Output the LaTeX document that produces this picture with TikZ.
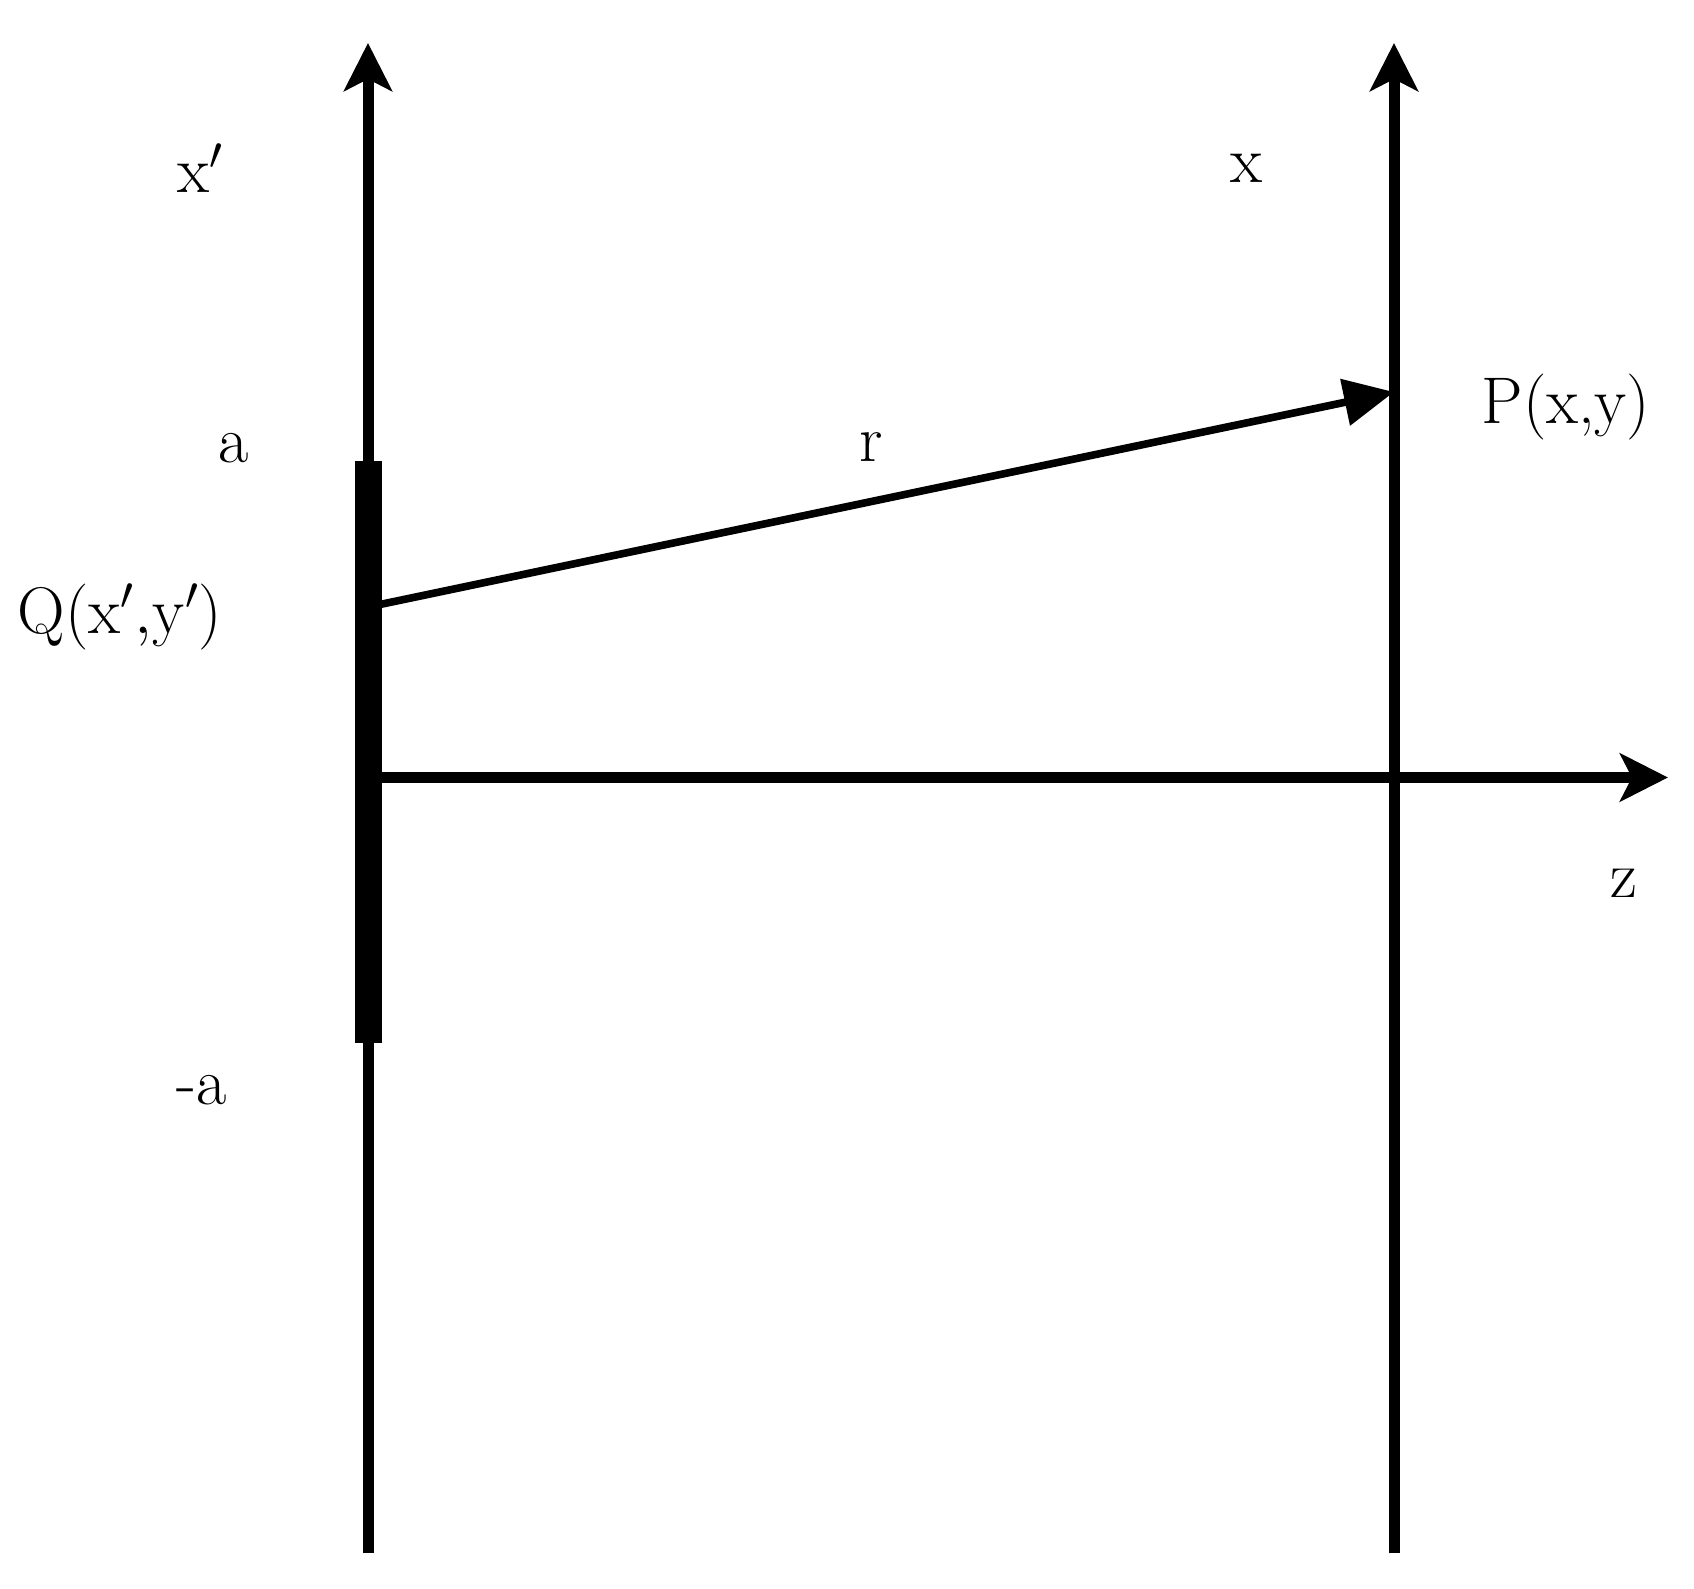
\RequirePackage{fix-cm}
\documentclass[tikz,border=0pt]{standalone}
\usetikzlibrary{arrows.meta}
\begin{document}
\begin{tikzpicture}[x=0.5pt,y=-0.5pt,
  axis/.style={line width=5.5pt,-{Stealth[length=24pt,width=24pt,inset=6pt]}},
  bar/.style={line width=13.5pt},
  rvec/.style={line width=3.8pt,-{Stealth[length=25pt,width=23pt,inset=0pt]}},
  lbl/.style={anchor=base,inner sep=0pt,font=\fontsize{33}{40}\selectfont}]
\useasboundingbox (0,0) rectangle (1694,1589);
% axes
\coordinate (Lb) at (368,1553);
\coordinate (Lt) at (368,43);
\coordinate (Rb) at (1394,1553);
\coordinate (Rt) at (1394,43);
\coordinate (O) at (368,777.5);
\coordinate (Zt) at (1668,777.5);
\coordinate (Btop) at (368,461);
\coordinate (Bbot) at (368,1043);
\coordinate (Q) at (368,607);
\coordinate (P) at (1394,392);
\draw[axis] (Lb) -- (Lt);
\draw[axis] (Rb) -- (Rt);
\draw[axis] (O) -- (Zt);
\draw[bar] (Btop) -- (Bbot);
\draw[rvec] (Q) -- (P);
% labels
\node[lbl] (lxp) at (200,193) {$\mathrm{x}'$};
\node[lbl] (lx) at (1246,183) {x};
\node[lbl] (la) at (234,463) {a};
\node[lbl] (lma) at (202,1104) {-a};
\node[lbl] (lr) at (871,462) {r};
\node[lbl] (lz) at (1624,897) {z};
\node[lbl] (lQ) at (120,633) {Q$(\mathrm{x}'{,}\mathrm{y}')$};
\node[lbl] (lP) at (1566,423) {P(x,y)};
\end{tikzpicture}
\end{document}
